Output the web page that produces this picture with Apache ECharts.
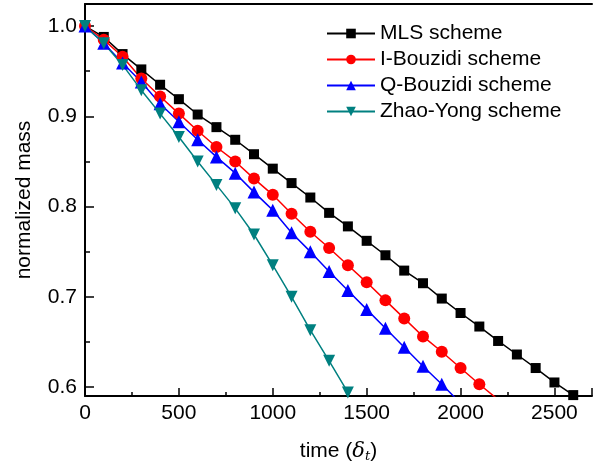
<!DOCTYPE html>
<html>
<head>
<meta charset="utf-8">
<script src="https://cdn.jsdelivr.net/npm/echarts@6/dist/echarts.min.js"></script>
<style>
  html, body { margin: 0; padding: 0; background: #fff; }
  #chart { width: 594px; height: 472px; }
</style>
</head>
<body>
<div id="chart"></div>
<script>
// time steps (delta_t), one point every 100
const timeMLS = [0, 100, 200, 300, 400, 500, 600, 700, 800, 900, 1000, 1100, 1200, 1300, 1400, 1500, 1600, 1700, 1800, 1900, 2000, 2100, 2200, 2300, 2400, 2500, 2600]
const massMLS = [1.0, 0.988, 0.969, 0.952, 0.935, 0.919, 0.902, 0.888, 0.874, 0.858, 0.842, 0.826, 0.810, 0.793, 0.778, 0.762, 0.746, 0.729, 0.715, 0.698, 0.682, 0.667, 0.651, 0.636, 0.621, 0.605, 0.591]

const timeIB = [0, 100, 200, 300, 400, 500, 600, 700, 800, 900, 1000, 1100, 1200, 1300, 1400, 1500, 1600, 1700, 1800, 1900, 2000, 2100, 2200]
const massIB = [1.0, 0.985, 0.966, 0.942, 0.922, 0.903, 0.884, 0.866, 0.850, 0.831, 0.813, 0.792, 0.772, 0.754, 0.735, 0.716, 0.696, 0.676, 0.656, 0.639, 0.621, 0.603, 0.586]

const timeQB = [0, 100, 200, 300, 400, 500, 600, 700, 800, 900, 1000, 1100, 1200, 1300, 1400, 1500, 1600, 1700, 1800, 1900, 2000]
const massQB = [1.0, 0.981, 0.959, 0.938, 0.914, 0.894, 0.874, 0.855, 0.837, 0.816, 0.796, 0.771, 0.750, 0.728, 0.707, 0.686, 0.665, 0.644, 0.623, 0.603, 0.582]

const timeZY = [0, 100, 200, 300, 400, 500, 600, 700, 800, 900, 1000, 1100, 1200, 1300, 1400]
const massZY = [1.0, 0.981, 0.957, 0.929, 0.903, 0.877, 0.850, 0.824, 0.798, 0.769, 0.735, 0.700, 0.663, 0.629, 0.594]

const yTicks = [0.6, 0.7, 0.8, 0.9, 1.0]
const yMinorTicks = [0.65, 0.75, 0.85, 0.95]

const font = 'Liberation Sans'
const fs = 21

// zip x/y arrays into points
function pts (xs, ys) {
  return xs.map((x, i) => [x, ys[i]])
}

function mkSeries (name, xs, ys, color, symbol, size) {
  return {
    name: name,
    type: 'line',
    data: pts(xs, ys),
    symbol: symbol,
    symbolSize: size,
    clip: true,
    lineStyle: { color: color, width: 1.5 },
    itemStyle: { color: color },
    emphasis: { disabled: true }
  }
}

const chart = echarts.init(document.getElementById('chart'), null, { renderer: 'canvas' })

chart.setOption({
  animation: false,
  textStyle: { fontFamily: font, fontSize: fs },
  grid: { left: 85, right: 2, top: 4, bottom: 76, outerBoundsMode: 'none', containLabel: false },
  legend: {
    orient: 'vertical',
    left: 321,
    top: 18,
    itemWidth: 48,
    itemHeight: 12,
    itemGap: 5,
    textStyle: { fontSize: fs, color: '#000', fontFamily: font },
    data: ['MLS scheme', 'I-Bouzidi scheme', 'Q-Bouzidi scheme', 'Zhao-Yong scheme']
  },
  xAxis: [
    {
      type: 'value',
      min: 0,
      max: 2700,
      interval: 500,
      name: 'time ({d|δ}{s|t})',
      nameLocation: 'middle',
      nameGap: 44,
      nameTextStyle: {
        fontSize: fs, color: '#000', fontFamily: font,
        rich: {
          d: { fontSize: fs, fontStyle: 'italic', fontFamily: 'DejaVu Serif', color: '#000' },
          s: { fontSize: 13, fontStyle: 'italic', fontFamily: 'DejaVu Serif', color: '#000', verticalAlign: 'bottom', padding: [10, 0, 0, 0] }
        }
      },
      axisLine: { show: true, onZero: false, lineStyle: { color: '#000', width: 2 } },
      axisTick: { show: true, inside: true, length: 8, lineStyle: { color: '#000', width: 1.5 } },
      minorTick: { show: true, splitNumber: 2, length: 4, lineStyle: { color: '#000', width: 1.5 } },
      axisLabel: { fontSize: fs, color: '#000', margin: 7, fontFamily: font, showMaxLabel: false, formatter: v => String(v) },
      splitLine: { show: false }
    },
    {
      type: 'value',
      position: 'top',
      min: 0,
      max: 2700,
      axisLine: { show: true, onZero: false, lineStyle: { color: '#000', width: 2 } },
      axisTick: { show: false },
      axisLabel: { show: false },
      splitLine: { show: false }
    }
  ],
  yAxis: [
    {
      type: 'value',
      min: 0.59,
      max: 1.0245,
      name: 'normalized mass',
      nameLocation: 'middle',
      nameGap: 50,
      nameTextStyle: { fontSize: fs, color: '#000', fontFamily: font },
      axisLine: { show: true, onZero: false, lineStyle: { color: '#000', width: 2 } },
      axisTick: { show: true, inside: true, length: 9, customValues: yTicks, lineStyle: { color: '#000', width: 1.5 } },
      axisLabel: {
        fontSize: fs, color: '#000', margin: 8, fontFamily: font,
        customValues: yTicks,
        formatter: v => v.toFixed(1)
      },
      splitLine: { show: false }
    },
    {
      // minor ticks only
      type: 'value',
      position: 'left',
      min: 0.59,
      max: 1.0245,
      axisLine: { show: false },
      axisTick: { show: true, inside: true, length: 5, customValues: yMinorTicks, lineStyle: { color: '#000', width: 1.5 } },
      axisLabel: { show: false },
      splitLine: { show: false }
    }
  ],
  series: [
    mkSeries('MLS scheme', timeMLS, massMLS, '#000000', 'rect', 10),
    mkSeries('I-Bouzidi scheme', timeIB, massIB, '#ff0000', 'circle', 12),
    mkSeries('Q-Bouzidi scheme', timeQB, massQB, '#0000ff', 'triangle', 13),
    mkSeries('Zhao-Yong scheme', timeZY, massZY, '#008080', 'path://M0,0 L10,0 L5,9 Z', 12)
  ]
})
</script>
</body>
</html>
